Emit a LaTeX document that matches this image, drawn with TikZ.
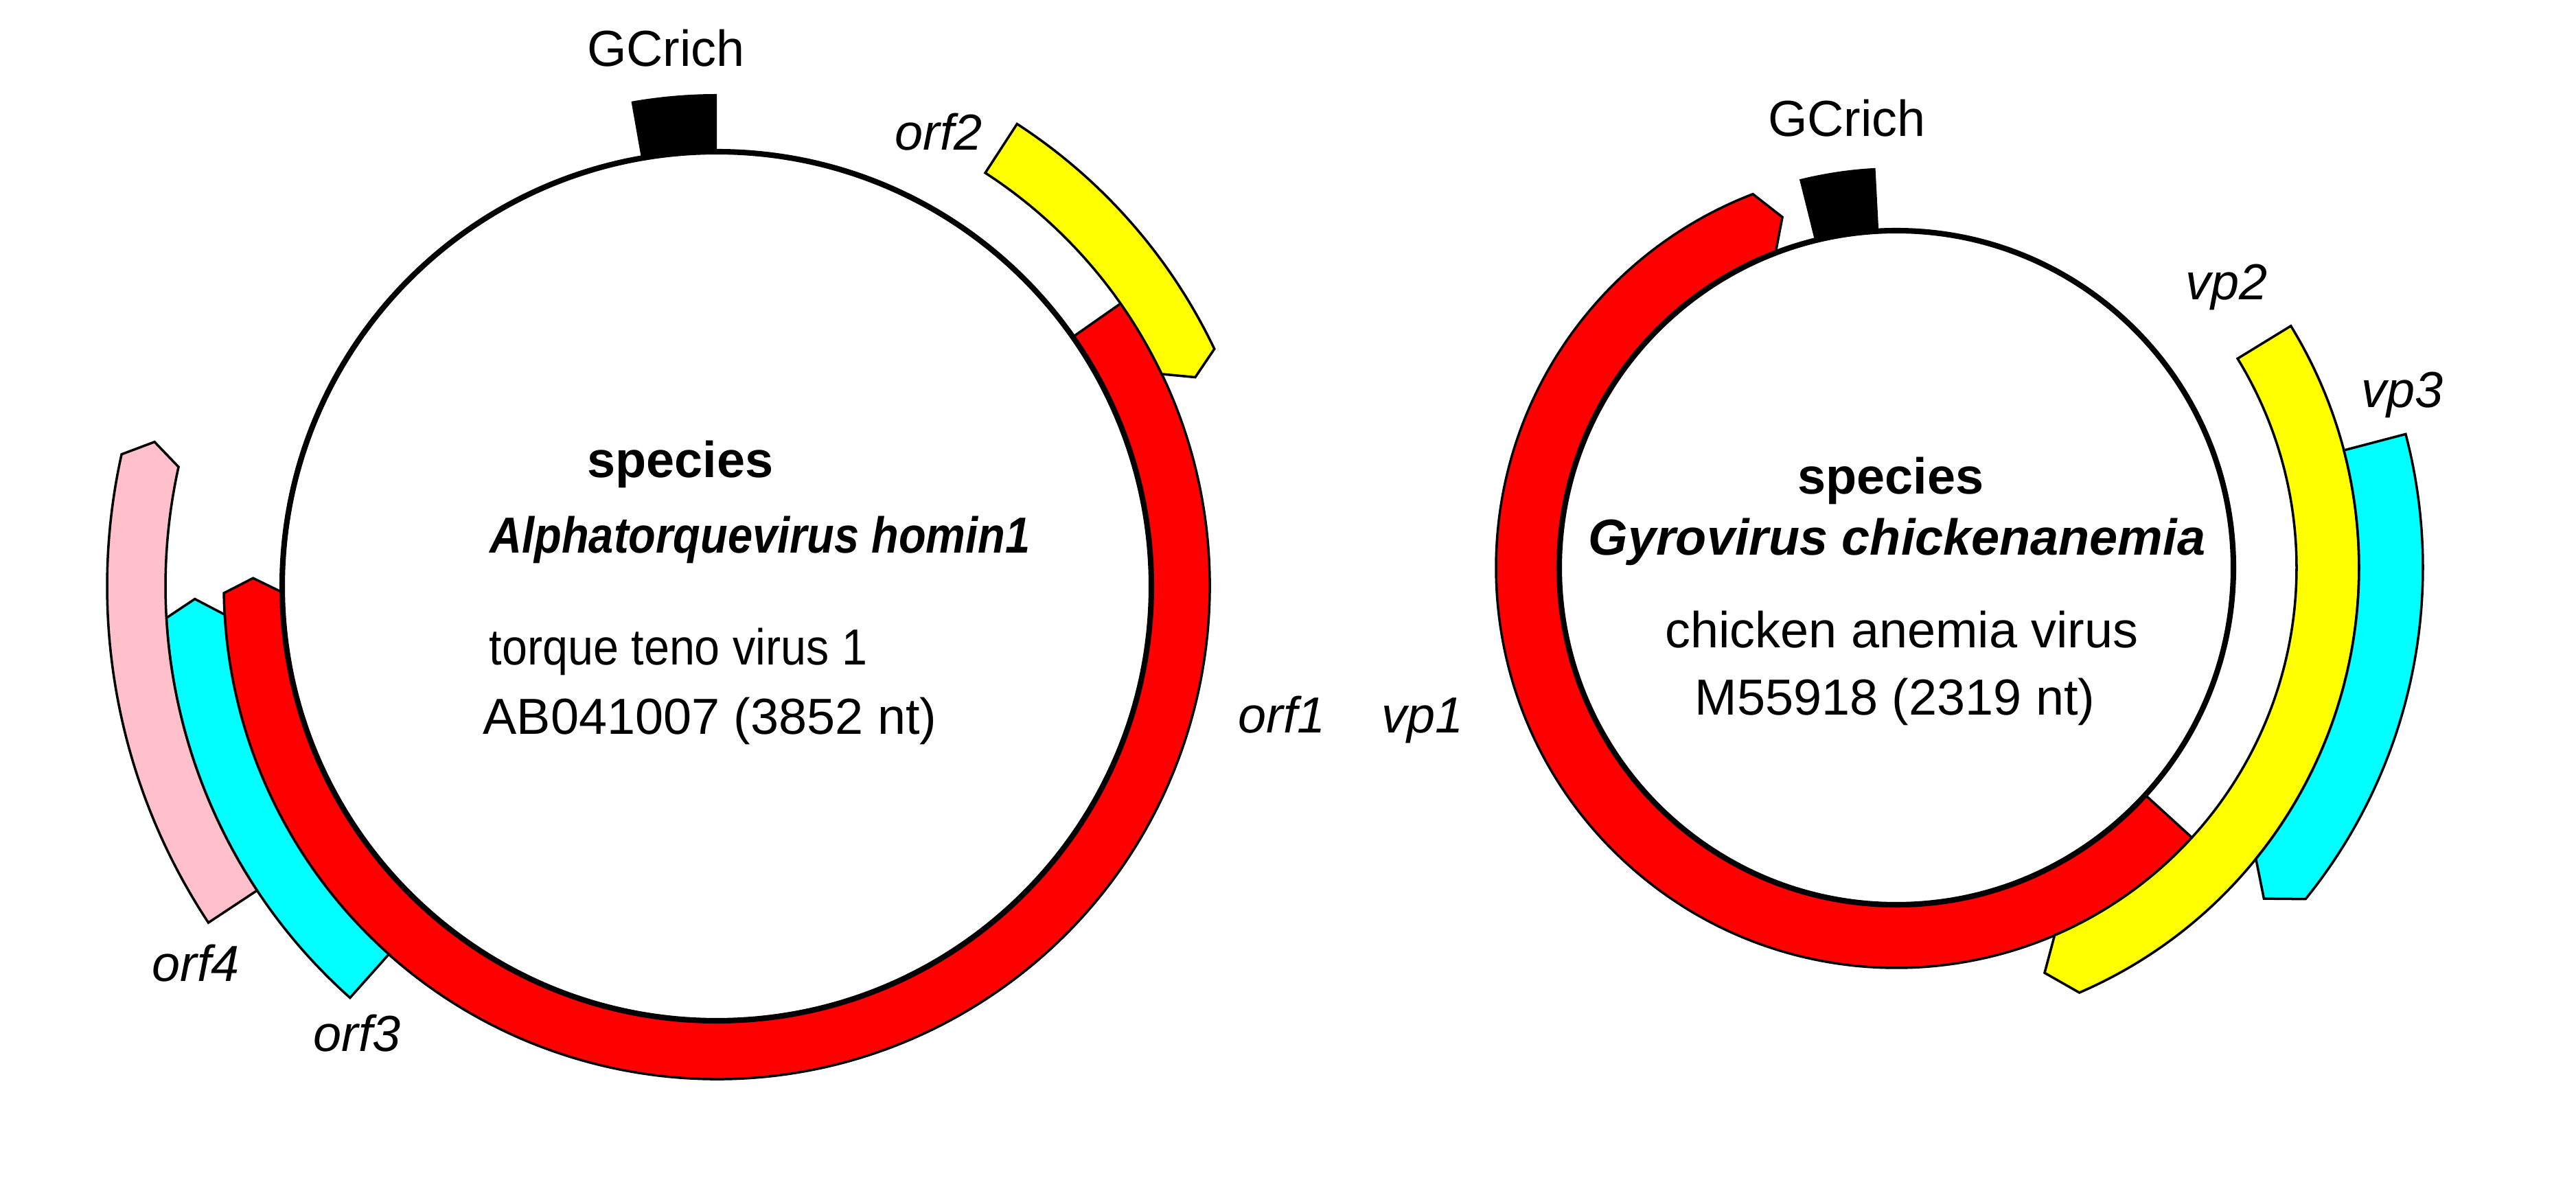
\documentclass[tikz,border=0pt]{standalone}
\usepackage{fontspec}
\setmainfont{Liberation Sans}
\definecolor{orfred}{RGB}{255,0,0}
\definecolor{orfyellow}{RGB}{255,255,0}
\definecolor{orfcyan}{RGB}{0,255,255}
\definecolor{orfpink}{RGB}{255,192,203}

% band on a ring: fill, start angle, end angle, tip angle, inner r, outer r
\newcommand{\orfband}[6]{%
    \filldraw[band, fill=#1] (#2:#6) arc[start angle=#2, end angle=#3, radius=#6]
        -- (#4:{(#5+#6)/2}) -- (#3:#5)
        arc[start angle=#3, end angle=#2, radius=#5] -- cycle;}

\begin{document}
\begin{tikzpicture}[
            band/.style={
                draw=black,
                line width=1pt,
                line join=miter
            },
            genome/.style={
                draw=black,
                line width=2.3pt
            },
            txt/.style={
                anchor=base,
                inner sep=0pt,
                font=\fontsize{21}{25}\selectfont
            },
            gene/.style={
                txt,
                font=\fontsize{21}{25}\selectfont\itshape
            }
        ]
            \useasboundingbox (0,0) rectangle (37.52,17.34);

            % torque teno virus 1
            \begin{scope}[shift={(10.44,8.80)}]
                \orfband{orfred}{35}{-179.2}{-181}{6.33}{7.18}
                \orfband{orfyellow}{57}{25.5}{23.6}{7.18}{8.03}
                \orfband{orfcyan}{228.3}{183.3}{181.4}{7.18}{8.03}
                \orfband{orfpink}{213.5}{167.5}{165.6}{8.03}{8.88}
                \draw[genome] (0,0) circle[radius=6.33];
                \fill[black] (90:6.33) -- (90:7.17)
                    arc[start angle=90, end angle=100, radius=7.17]
                    -- (100:6.33) arc[start angle=100, end angle=90, radius=6.33] -- cycle;
            \end{scope}

            % chicken anemia virus
            \begin{scope}[shift={(27.62,9.07)}]
                \orfband{orfred}{-42.4}{-249}{-252}{4.91}{5.83}
                \orfband{orfyellow}{31.5}{-66.7}{-69.9}{5.83}{6.74}
                \orfband{orfcyan}{14.7}{-39}{-42}{6.74}{7.67}
                \draw[genome] (0,0) circle[radius=4.91];
                \fill[black] (93:4.91) -- (93:5.83)
                    arc[start angle=93, end angle=104, radius=5.83]
                    -- (104:4.91) arc[start angle=104, end angle=93, radius=4.91] -- cycle;
            \end{scope}

            \node[txt] (gc1) at (9.70,16.37) {GCrich};
            \node[gene] (orf2) at (13.67,15.15) {orf2};
            \node[txt] (sp1) at (9.91,10.38) {\bfseries species};
            \node[txt] (nm1) at (11.07,9.28) {\scalebox{0.88}[1]{\bfseries\itshape Alphatorquevirus homin1}};
            \node[txt] (vn1) at (9.88,7.65) {\scalebox{0.9}[1]{torque teno virus 1}};
            \node[txt] (ac1) at (10.34,6.64) {AB041007 (3852 nt)};
            \node[gene] (orf1) at (18.67,6.67) {orf1};
            \node[gene] (orf4) at (2.85,3.05) {orf4};
            \node[gene] (orf3) at (5.20,2.03) {orf3};

            \node[txt] (gc2) at (26.90,15.35) {GCrich};
            \node[gene] (vp2) at (32.43,12.97) {vp2};
            \node[gene] (vp3) at (34.99,11.40) {vp3};
            \node[txt] (sp2) at (27.54,10.14) {\bfseries species};
            \node[txt] (nm2) at (27.63,9.25) {\bfseries\itshape Gyrovirus chickenanemia};
            \node[txt] (vn2) at (27.70,7.90) {chicken anemia virus};
            \node[txt] (ac2) at (27.60,6.93) {M55918 (2319 nt)};
            \node[gene] (vp1) at (20.72,6.67) {vp1};
        \end{tikzpicture}
\end{document}
